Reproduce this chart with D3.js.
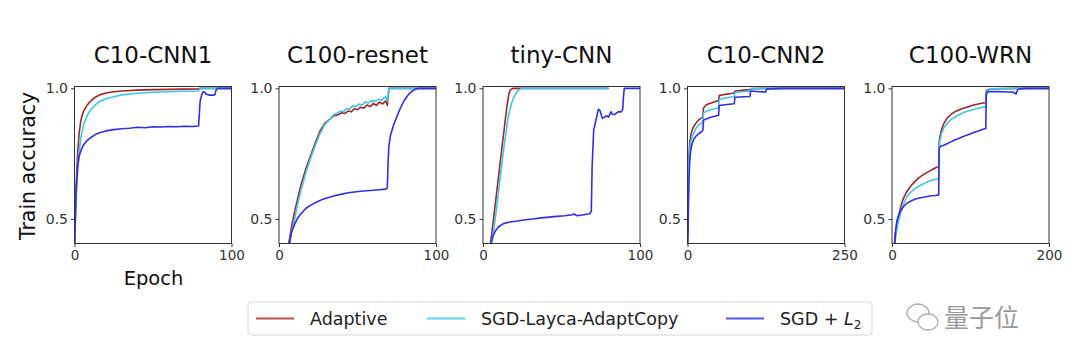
<!DOCTYPE html>
<html>
<head>
<meta charset="utf-8">
<title>Train accuracy</title>
<script src="https://cdnjs.cloudflare.com/ajax/libs/d3/7.8.5/d3.min.js"></script>
<style>
  body { margin: 0; background: #fff; }
  svg { font-family: "DejaVu Sans", sans-serif; }
  .tick text { fill: #333; }
  .tick line { stroke: #333; }
</style>
</head>
<body>
<svg id="chart" width="1080" height="363"></svg>
<script>
// ---- data ----
var titles = ["C10-CNN1", "C100-resnet", "tiny-CNN", "C10-CNN2", "C100-WRN"];
var xMax = [100, 100, 100, 250, 200];
var yTicks = [0.5, 1.0];
var seriesNames = ["Adaptive", "SGD-Layca-AdaptCopy", "SGD + L2"];

var cnn1Adaptive = [[0,0.38],[0.5,0.5],[1,0.62],[2,0.75],[3,0.83],[4,0.875],[5,0.9],[6,0.915],[8,0.935],[10,0.95],[13,0.965],[16,0.975],[20,0.982],[25,0.987],[30,0.99],[40,0.993],[50,0.995],[60,0.996],[70,0.997],[79,0.998],[80,1.0],[100,1.0]];
var cnn1Layca = [[0,0.38],[0.5,0.47],[1,0.57],[2,0.69],[3,0.76],[4,0.81],[5,0.84],[6,0.865],[8,0.895],[10,0.915],[13,0.935],[16,0.95],[20,0.96],[25,0.968],[30,0.975],[40,0.981],[50,0.985],[60,0.987],[70,0.989],[79,0.99],[80,1.0],[100,1.0]];
var cnn1L2 = [[0,0.38],[0.5,0.5],[1,0.6],[2,0.7],[3,0.74],[4,0.76],[5,0.775],[6,0.785],[8,0.8],[10,0.81],[13,0.822],[16,0.83],[20,0.837],[25,0.842],[30,0.845],[35,0.847],[40,0.851],[45,0.849],[50,0.853],[55,0.852],[60,0.854],[65,0.853],[70,0.855],[75,0.854],[79,0.856],[79.5,0.9],[80,0.95],[81,0.975],[82,0.987],[83,0.985],[84,0.977],[86,0.974],[88,0.974],[89.5,0.976],[90,0.99],[91,1.0],[100,1.0]];

var resnetAdaptive = [[5.5,0.38],[6,0.4],[8,0.47],[10,0.53],[12,0.58],[14,0.63],[17,0.69],[20,0.74],[23,0.79],[26,0.835],[29,0.865],[32,0.88],[35,0.895],[38,0.9],[40,0.907],[42,0.904],[44,0.913],[46,0.91],[48,0.922],[50,0.918],[52,0.928],[54,0.924],[56,0.936],[58,0.93],[60,0.942],[62,0.935],[64,0.947],[66,0.94],[68,0.952],[69,0.935],[70,1.0],[100,1.0]];
var resnetLayca = [[6,0.38],[6.5,0.4],[8,0.45],[10,0.5],[12,0.56],[14,0.61],[17,0.675],[20,0.73],[23,0.78],[26,0.825],[29,0.86],[32,0.88],[35,0.9],[37,0.905],[39,0.913],[41,0.91],[43,0.923],[45,0.92],[47,0.933],[49,0.93],[51,0.94],[53,0.936],[55,0.948],[57,0.944],[59,0.953],[61,0.95],[63,0.958],[65,0.955],[67,0.963],[68,0.968],[69,0.95],[70,1.0],[100,1.0]];
var resnetL2 = [[6,0.38],[6.5,0.4],[8,0.45],[10,0.48],[12,0.505],[14,0.52],[17,0.54],[20,0.552],[24,0.565],[28,0.575],[32,0.583],[36,0.59],[40,0.595],[44,0.6],[48,0.603],[52,0.606],[56,0.608],[60,0.61],[64,0.612],[68,0.614],[69,0.62],[69.5,0.72],[70,0.78],[71,0.82],[73,0.86],[75,0.89],[77,0.92],[79,0.945],[81,0.965],[83,0.98],[85,0.99],[87,0.997],[89,1.0],[100,1.0]];

var tinyAdaptive = [[4.3,0.38],[4.7,0.4],[8,0.565],[12,0.77],[15,0.92],[16.5,0.98],[17.5,0.995],[19,1.0],[80,1.0]];
var tinyLayca = [[5.2,0.38],[5.7,0.4],[9,0.56],[13,0.76],[16,0.89],[18,0.94],[20,0.97],[22,0.99],[24,0.998],[26,1.0],[80,1.0]];
var tinyL2 = [[4,0.38],[4.3,0.4],[6,0.43],[8,0.455],[10,0.47],[13,0.482],[17,0.488],[22,0.492],[27,0.497],[32,0.5],[37,0.504],[42,0.507],[47,0.51],[52,0.512],[57,0.516],[58,0.519],[60,0.512],[63,0.515],[66,0.518],[68,0.52],[69,0.53],[69.5,0.7],[70.5,0.84],[72,0.88],[73.5,0.92],[74.5,0.915],[76,0.885],[77.5,0.89],[79,0.895],[80,0.89],[81.5,0.91],[82.5,0.9],[84,0.9],[86,0.91],[88,0.91],[89,0.92],[89.5,0.97],[90,1.0],[100,1.0]];

var cnn2Adaptive = [[0,0.38],[0.5,0.5],[1,0.62],[2,0.72],[3,0.77],[4,0.8],[6,0.83],[9,0.85],[13,0.865],[17,0.877],[21,0.885],[24.5,0.89],[25.5,0.925],[30,0.937],[35,0.942],[40,0.946],[45,0.95],[49.5,0.953],[50.5,0.972],[60,0.977],[70,0.98],[74.5,0.982],[75.5,0.99],[90,0.993],[99.5,0.995],[100.5,0.999],[125,1.0],[250,1.0]];
var cnn2Layca = [[0,0.38],[0.5,0.48],[1,0.6],[2,0.7],[3,0.75],[4,0.775],[6,0.805],[9,0.825],[13,0.845],[17,0.858],[21,0.866],[24.5,0.872],[25.5,0.905],[30,0.912],[35,0.917],[40,0.92],[45,0.923],[49.5,0.925],[50.5,0.958],[60,0.963],[70,0.967],[74.5,0.969],[75.5,0.984],[90,0.988],[99.5,0.99],[100.5,0.998],[125,1.0],[250,1.0]];
var cnn2L2 = [[0,0.38],[1,0.45],[1.5,0.55],[2.5,0.65],[3.5,0.72],[5,0.76],[7,0.785],[10,0.805],[14,0.818],[18,0.827],[22,0.833],[24.5,0.84],[25.5,0.878],[30,0.883],[35,0.887],[40,0.891],[45,0.894],[49.5,0.897],[50.5,0.934],[60,0.937],[70,0.94],[74.5,0.941],[75.5,0.966],[90,0.968],[99.5,0.969],[100.5,0.99],[115,0.987],[124.5,0.986],[125.5,0.997],[150,1.0],[250,1.0]];

var wrnAdaptive = [[2.5,0.38],[3,0.4],[4,0.44],[6,0.48],[8,0.506],[11,0.545],[14,0.575],[18,0.6],[23,0.622],[28,0.64],[34,0.657],[40,0.67],[46,0.68],[52,0.69],[57,0.698],[59.5,0.7],[60,0.79],[61,0.815],[63,0.84],[66,0.865],[70,0.885],[75,0.9],[80,0.91],[86,0.918],[92,0.925],[98,0.93],[104,0.936],[110,0.94],[116,0.944],[119.5,0.945],[120,0.99],[122,0.995],[130,0.998],[160,1.0],[200,1.0]];
var wrnLayca = [[3,0.38],[3.5,0.4],[5,0.44],[7,0.475],[9,0.5],[12,0.535],[15,0.56],[19,0.585],[23,0.6],[28,0.613],[34,0.625],[40,0.635],[46,0.643],[52,0.649],[57,0.653],[59.5,0.655],[60,0.77],[61,0.8],[63,0.825],[66,0.848],[70,0.865],[75,0.88],[80,0.89],[86,0.9],[92,0.908],[98,0.914],[104,0.919],[110,0.924],[116,0.928],[119.5,0.93],[120,0.985],[122,0.993],[126,0.997],[130,0.998],[160,1.0],[200,1.0]];
var wrnL2 = [[3,0.38],[3.5,0.4],[4.5,0.45],[6,0.49],[8,0.51],[10,0.525],[13,0.54],[16,0.552],[20,0.562],[25,0.57],[30,0.576],[35,0.58],[40,0.583],[45,0.586],[50,0.589],[55,0.59],[59.5,0.592],[60,0.77],[62,0.778],[66,0.782],[70,0.788],[75,0.795],[80,0.802],[85,0.808],[90,0.815],[95,0.82],[100,0.826],[105,0.832],[110,0.837],[115,0.842],[119.5,0.846],[120,0.975],[122,0.987],[130,0.988],[140,0.987],[150,0.986],[155,0.985],[158,0.978],[160,0.995],[163,0.998],[170,1.0],[200,1.0]];

var panelData = [
  [cnn1Adaptive, cnn1Layca, cnn1L2],
  [resnetAdaptive, resnetLayca, resnetL2],
  [tinyAdaptive, tinyLayca, tinyL2],
  [cnn2Adaptive, cnn2Layca, cnn2L2],
  [wrnAdaptive, wrnLayca, wrnL2]
];

// ---- layout ----
var colors = ["#a32626", "#3cc6ee", "#2f2fe6"];
var panelLeft = [74.5, 279, 483, 687.5, 892];
var panelW = 157;
var plotTop = 86.5, plotBottom = 243.5;

var svg = d3.select("#chart");

var y = d3.scaleLinear().domain([0.406, 1.007]).range([plotBottom, plotTop]);

panelData.forEach(function(series, i) {
  var x = d3.scaleLinear().domain([0, xMax[i]]).range([panelLeft[i], panelLeft[i] + panelW]);
  var g = svg.append("g");

  g.append("clipPath").attr("id", "clip" + i)
    .append("rect")
    .attr("x", panelLeft[i]).attr("y", plotTop)
    .attr("width", panelW).attr("height", plotBottom - plotTop);

  var line = d3.line()
    .x(function(d) { return x(d[0]); })
    .y(function(d) { return y(d[1]); });

  var lines = g.append("g").attr("clip-path", "url(#clip" + i + ")");
  series.forEach(function(s, k) {
    lines.append("path")
      .attr("d", line(s))
      .attr("fill", "none")
      .attr("stroke", colors[k])
      .attr("stroke-width", 1.6)
      .attr("stroke-linejoin", "round");
  });

  // frame
  g.append("rect")
    .attr("x", panelLeft[i]).attr("y", plotTop)
    .attr("width", panelW).attr("height", plotBottom - plotTop)
    .attr("fill", "none").attr("stroke", "#333").attr("stroke-width", 1);

  g.append("g")
    .attr("transform", "translate(" + panelLeft[i] + ",0)")
    .call(d3.axisLeft(y).tickValues(yTicks).tickFormat(d3.format(".1f")).tickSize(3.5).tickPadding(3))
    .call(function(a) { a.select(".domain").remove(); })
    .selectAll("text").style("font-size", "14px").style("font-family", "DejaVu Sans");

  g.append("g")
    .attr("transform", "translate(0," + plotBottom + ")")
    .call(d3.axisBottom(x).tickValues([0, xMax[i]]).tickFormat(d3.format("d")).tickSize(3.5).tickPadding(3))
    .call(function(a) { a.select(".domain").remove(); })
    .selectAll("text").style("font-size", "13.5px").style("font-family", "DejaVu Sans");

  g.append("text")
    .attr("x", panelLeft[i] + panelW / 2)
    .attr("y", 63)
    .attr("text-anchor", "middle")
    .style("font-size", "23px")
    .style("fill", "#111")
    .text(titles[i]);
});

// axis labels
svg.append("text")
  .attr("transform", "translate(35,166) rotate(-90)")
  .attr("text-anchor", "middle")
  .style("font-size", "20.5px").style("fill", "#111")
  .text("Train accuracy");

svg.append("text")
  .attr("x", panelLeft[0] + panelW / 2 + 0.5)
  .attr("y", 285)
  .attr("text-anchor", "middle")
  .style("font-size", "19.5px").style("fill", "#111")
  .text("Epoch");

// legend
var legend = svg.append("g");
legend.append("rect")
  .attr("x", 248).attr("y", 302).attr("width", 624).attr("height", 33)
  .attr("rx", 3).attr("fill", "#fff").attr("stroke", "#d6d6d6");

var legendX = [256, 427, 726];
seriesNames.forEach(function(name, k) {
  legend.append("line")
    .attr("x1", legendX[k]).attr("x2", legendX[k] + 38)
    .attr("y1", 318.5).attr("y2", 318.5)
    .attr("stroke", colors[k]).attr("stroke-width", 1.8).attr("opacity", 0.8);
  var t = legend.append("text")
    .attr("x", legendX[k] + 54)
    .attr("y", 324.5)
    .style("font-size", "17.5px").style("fill", "#222");
  if (k === 2) {
    t.append("tspan").text("SGD + ");
    t.append("tspan").style("font-style", "italic").text("L");
    t.append("tspan").attr("dy", 4).style("font-size", "12px").text("2");
  } else {
    t.text(name);
  }
});

// watermark
var wm = svg.append("g").attr("fill", "none").attr("stroke", "#aaa").attr("stroke-width", 1.3);
wm.append("ellipse").attr("cx", 918).attr("cy", 313).attr("rx", 11).attr("ry", 9);
wm.append("ellipse").attr("cx", 928).attr("cy", 322).attr("rx", 10).attr("ry", 8).attr("fill", "#fff");
svg.append("text")
  .attr("x", 944).attr("y", 327)
  .style("font-family", "'Noto Sans CJK SC', sans-serif")
  .style("font-size", "25px").style("fill", "#9a9a9a")
  .text("量子位");
</script>
</body>
</html>
